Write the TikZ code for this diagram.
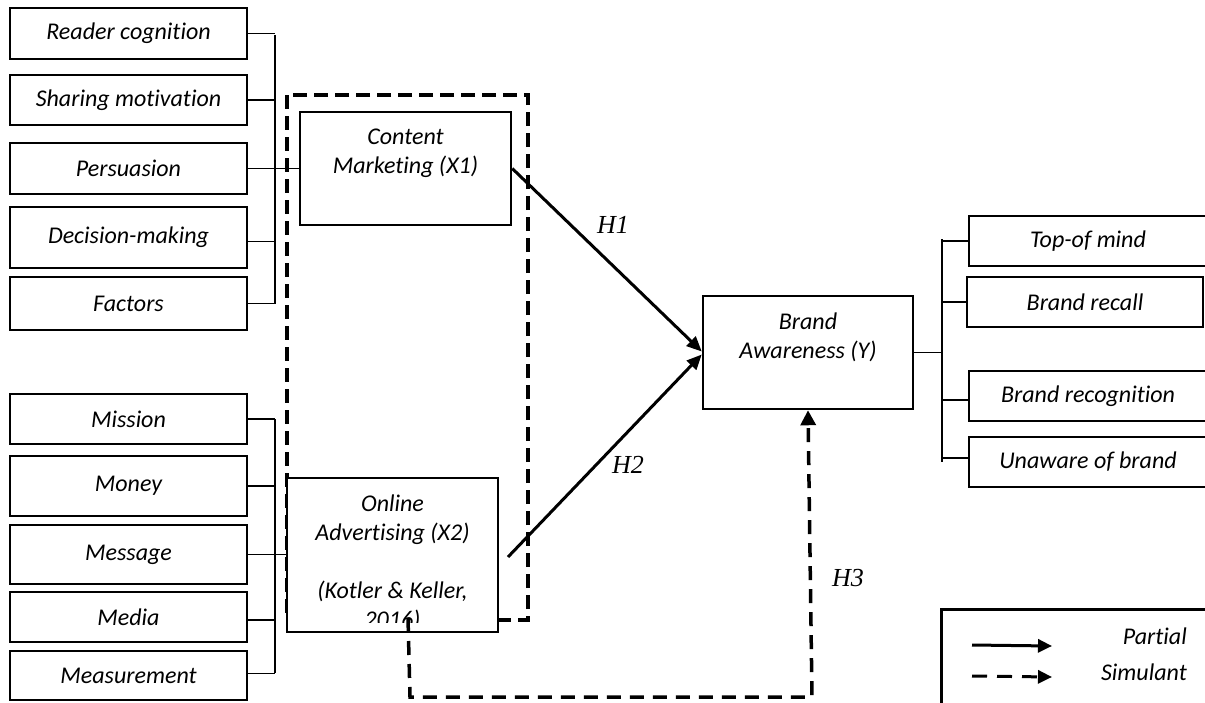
\documentclass[tikz,border=0pt]{standalone}
\usepackage{fontspec}
\setmainfont[Ligatures=NoCommon]{Carlito}
\newfontfamily\hfont{Liberation Serif}
\usetikzlibrary{arrows.meta}
\begin{document}
\begin{tikzpicture}[x=1pt,y=-1pt,
  box/.style={draw, line width=2.5pt, fill=white, inner sep=0pt, font=\fontsize{24}{29}\selectfont\itshape, align=center},
  lbl/.style={inner sep=0pt, font=\fontsize{24}{29}\selectfont\itshape, align=center},
  tick/.style={line width=1.6pt},
  grp/.style={line width=3.5pt, dash pattern=on 14pt off 7pt},
  rel/.style={line width=3pt, -{Triangle[length=15pt,width=13pt]}},
  hyp/.style={font=\fontsize{26}{30}\selectfont\hfont\itshape, inner sep=0pt}
]
\useasboundingbox (0,0) rectangle (1205,702);
\clip (0,0) rectangle (1205,702);
\fill[white] (0,0) rectangle (1205,702);

% group frame
\draw[grp] (287,95) rectangle (528,620);

% left top boxes
\node[box, minimum width=237pt, minimum height=51pt] (rc) at (128.5,33.5) {Reader cognition};
\node[box, minimum width=237pt, minimum height=50pt] (sm) at (128.5,100) {Sharing motivation};
\node[box, minimum width=237pt, minimum height=51pt] (pe) at (128.5,168.5) {Persuasion};
\node[box, minimum width=237pt, minimum height=61pt] (dm) at (128.5,237.5) {Decision-making};
\node[box, minimum width=237pt, minimum height=53pt] (fa) at (128.5,303.5) {Factors};

% left bottom boxes
\node[box, minimum width=237pt, minimum height=50pt] (mi) at (128.5,419) {Mission};
\node[box, minimum width=237pt, minimum height=60pt] (mo) at (128.5,486) {Money};
\node[box, minimum width=237pt, minimum height=59pt] (me) at (128.5,554.5) {Message};
\node[box, minimum width=237pt, minimum height=50pt] (md) at (128.5,617) {Media};
\node[box, minimum width=237pt, minimum height=49pt] (ms) at (128.5,675.5) {Measurement};

% main constructs
\node[box, minimum width=211pt, minimum height=113pt] (cm) at (405.5,168.5) {};
\node[lbl] (cmt) at (405.5,153) {Content\\Marketing (X1)};

\node[box, minimum width=211pt, minimum height=154pt] (oa) at (392.5,555) {};
\begin{scope}
\clip (288,479) rectangle (497,622.5);
\node[lbl] (oat) at (392.5,563) {Online\\Advertising (X2)\\[29pt](Kotler \& Keller,\\2016)};
\end{scope}

\node[box, minimum width=210pt, minimum height=113pt] (ba) at (808,352.5) {};
\node[lbl] (bat) at (808,337) {Brand\\Awareness (Y)};

% right boxes
\node[box, minimum width=238pt, minimum height=50pt] (tm) at (1088,241) {Top-of mind};
\node[box, minimum width=236pt, minimum height=50pt] (br) at (1085,302) {Brand recall};
\node[box, minimum width=238pt, minimum height=50pt] (bg) at (1088,396) {Brand recognition};
\node[box, minimum width=238pt, minimum height=50pt] (ua) at (1088,462) {Unaware of brand};

% brackets left top
\coordinate (lbt) at (275,35);
\coordinate (lbb) at (275,304);
\draw[tick] (lbt) -- (lbb);
\draw[tick] (rc.east) -- (rc.east -| lbt);
\draw[tick] (sm.east) -- (sm.east -| lbt);
\draw[tick] (pe.east) -- (pe.east -| cm.west);
\draw[tick] ([yshift=-4pt]dm.east) -- ([yshift=-4pt]dm.east -| lbt);
\draw[tick] (fa.east) -- (fa.east -| lbt);

% brackets left bottom
\coordinate (lbt2) at (275,419);
\coordinate (lbb2) at (275,673);
\draw[tick] (lbt2) -- (lbb2);
\draw[tick] (mi.east) -- (mi.east -| lbt2);
\draw[tick] (mo.east) -- (mo.east -| lbt2);
\draw[tick] (me.east) -- (me.east -| oa.west);
\draw[tick] ([yshift=-3pt]md.east) -- ([yshift=-3pt]md.east -| lbt2);
\draw[tick] ([yshift=2pt]ms.east) -- ([yshift=2pt]ms.east -| lbt2);

% bracket right
\coordinate (rbt) at (942,239);
\coordinate (rbb) at (942,462);
\draw[tick] (rbt) -- (rbb);
\draw[tick] (ba.east) -- (ba.east -| rbt);
\draw[tick] (tm.west) -- (tm.west -| rbt);
\draw[tick] (br.west) -- (br.west -| rbt);
\draw[tick] ([yshift=-4pt]bg.west) -- ([yshift=-4pt]bg.west -| rbt);
\draw[tick] ([yshift=4pt]ua.west) -- ([yshift=4pt]ua.west -| rbt);

% hypotheses
\draw[rel] (cm.east) -- ([yshift=1pt]ba.west);
\coordinate (h2s) at (508,557);
\draw[rel] (h2s) -- ([yshift=-2pt]ba.west);
\coordinate (h3a) at (408,618);
\coordinate (h3b) at (410,697);
\coordinate (h3c) at (812,697);
\draw[line width=3.5pt, dash pattern=on 14pt off 9pt, -{Triangle[length=15pt,width=15pt]}] (h3a) -- (h3b) -- (h3c) -- (ba.south);

\node[hyp] (h1) at (613,225) {H1};
\node[hyp] (h2) at (628,465) {H2};
\node[hyp] (h3) at (848,578) {H3};

% legend
\node[draw, line width=2.5pt, minimum width=280pt, minimum height=110pt, anchor=north west, inner sep=0pt] (lg) at (940,608) {};
\coordinate (p1) at (972,645);
\coordinate (p2) at (1052,646);
\draw[line width=3pt, -{Triangle[length=14pt,width=13pt]}] (p1) -- (p2);
\coordinate (s1) at (972,676);
\coordinate (s2) at (1052,677);
\draw[line width=3pt, dash pattern=on 15pt off 10pt, -{Triangle[length=14pt,width=13pt]}] (s1) -- (s2);
\node[lbl, anchor=east] (lp) at (1187,636) {Partial};
\node[lbl, anchor=east] (ls) at (1187,672) {Simulant};
\end{tikzpicture}
\end{document}
